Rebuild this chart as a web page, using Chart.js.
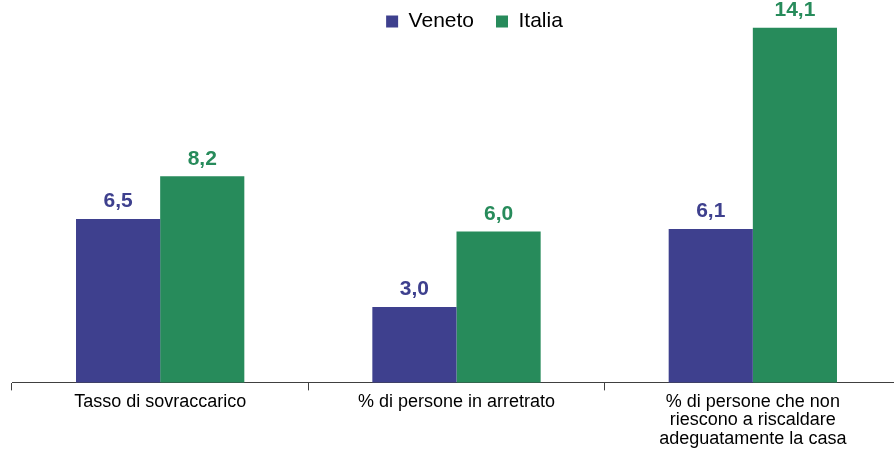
<!DOCTYPE html>
<html>
<head>
<meta charset="utf-8">
<script src="https://cdn.jsdelivr.net/npm/chart.js@4.4.1/dist/chart.umd.min.js"></script>
<style>
  html, body { margin: 0; padding: 0; background: #fff; overflow: hidden; }
  #wrap { position: absolute; left: 0; top: 0; width: 902px; height: 450px; }
</style>
</head>
<body>
<div id="wrap"><canvas id="c" width="902" height="450"></canvas></div>
<script>
// Categories (multi-line labels) and values per series
const categories = [
  ["Tasso di sovraccarico"],
  ["% di persone in arretrato"],
  ["% di persone che non", "riescono a riscaldare", "adeguatamente la casa"]
];
const seriesNames = ["Veneto", "Italia"];
const venetoValues = [6.5, 3.0, 6.1];
const italiaValues = [8.2, 6.0, 14.1];

const VENETO_COLOR = "#3E408E";
const ITALIA_COLOR = "#278B5B";
const FONT = "'Liberation Sans', Arial, sans-serif";

// Value labels above each bar, Italian decimal comma
const valueLabels = {
  id: "valueLabels",
  afterDatasetsDraw(chart) {
    const ctx = chart.ctx;
    ctx.save();
    ctx.font = "bold 21px " + FONT;
    ctx.textAlign = "center";
    ctx.textBaseline = "bottom";
    chart.data.datasets.forEach((ds, i) => {
      const meta = chart.getDatasetMeta(i);
      ctx.fillStyle = ds.backgroundColor;
      meta.data.forEach((bar, j) => {
        const txt = ds.data[j].toFixed(1).replace(".", ",");
        ctx.fillText(txt, bar.x, bar.y - 7);
      });
    });
    ctx.restore();
  }
};

// Nudge the legend box right and up
const legendOffset = {
  id: "legendOffset",
  afterLayout(chart) {
    const lg = chart.legend;
    if (!lg) return;
    const dx = 18, dy = -11;
    lg.left += dx; lg.right += dx;
    lg.top += dy; lg.bottom += dy;
  }
};

new Chart(document.getElementById("c"), {
  type: "bar",
  data: {
    labels: categories,
    datasets: [
      { label: seriesNames[0], data: venetoValues, backgroundColor: VENETO_COLOR, clip: false },
      { label: seriesNames[1], data: italiaValues, backgroundColor: ITALIA_COLOR, clip: false }
    ]
  },
  options: {
    responsive: false,
    animation: false,
    devicePixelRatio: 1,
    layout: { padding: { left: 12, right: 1, top: 0, bottom: 0 } },
    datasets: {
      bar: { categoryPercentage: 0.568, barPercentage: 1.0 }
    },
    plugins: {
      tooltip: { enabled: false },
      legend: {
        position: "top",
        labels: {
          font: { family: FONT, size: 21 },
          color: "#000",
          boxWidth: 12,
          boxHeight: 12,
          padding: 22
        }
      }
    },
    scales: {
      x: {
        grid: {
          display: true,
          drawOnChartArea: false,
          drawTicks: true,
          tickLength: 8,
          color: "#404040"
        },
        border: { display: true, color: "#404040", width: 1 },
        ticks: {
          color: "#000",
          font: { family: FONT, size: 18, lineHeight: 1.03 },
          padding: 2,
          maxRotation: 0,
          autoSkip: false
        }
      },
      y: {
        display: false,
        min: 0,
        max: 13.1
      }
    }
  },
  plugins: [valueLabels, legendOffset]
});
</script>
</body>
</html>
